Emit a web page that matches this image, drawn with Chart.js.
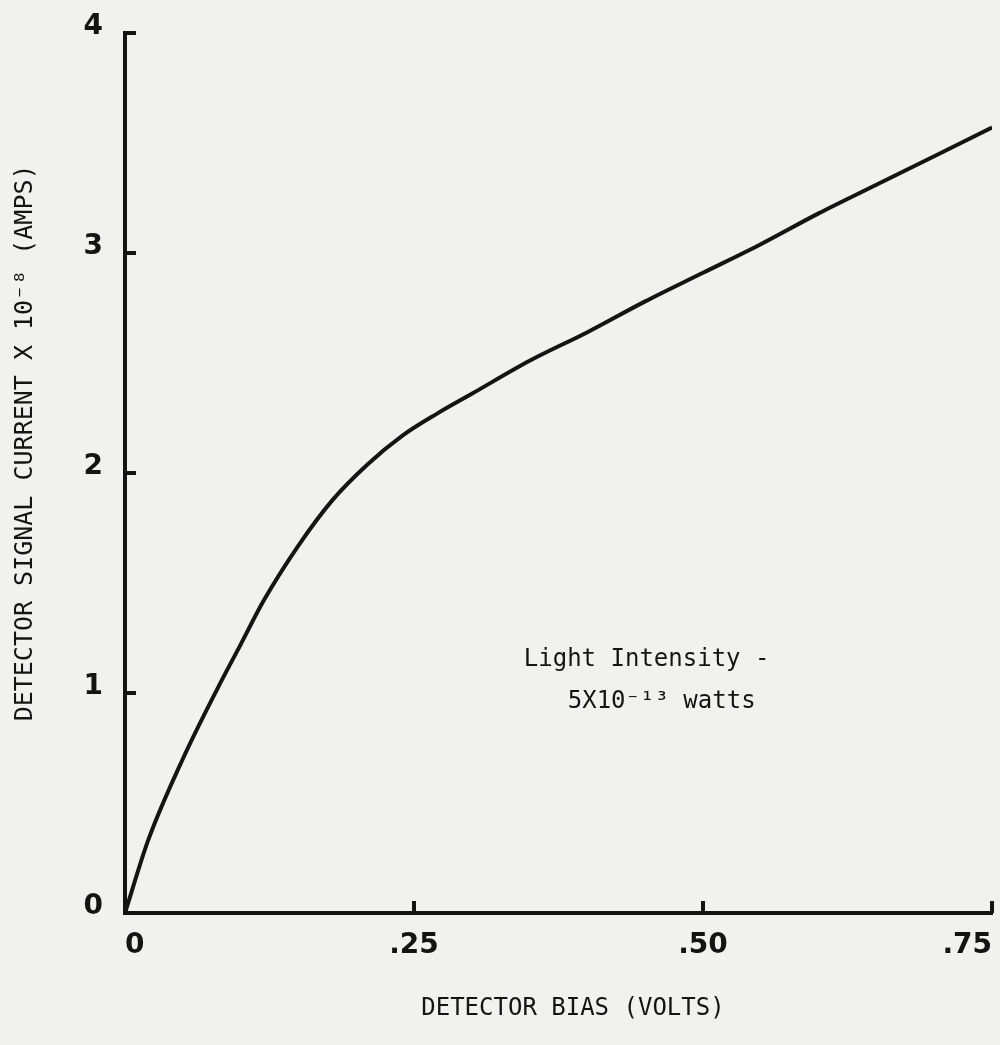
<!DOCTYPE html>
<html>
<head>
<meta charset="utf-8">
<script src="https://cdn.jsdelivr.net/npm/chart.js@4/dist/chart.umd.min.js"></script>
<style>
  html, body { margin: 0; padding: 0; background: #f1f1ef; }
  #wrap { width: 1000px; height: 1045px; position: relative; }
</style>
</head>
<body>
<div id="wrap"><canvas id="grafico"></canvas></div>
<script>
// detector bias (volts) vs signal current (x 10^-8 amps)
const biasVolts = [0, 0.02, 0.05, 0.08, 0.10, 0.12, 0.15, 0.18, 0.21, 0.24, 0.27, 0.30, 0.35, 0.40, 0.45, 0.50, 0.55, 0.60, 0.65, 0.70, 0.75];
const signalCurrent = [0, 0.33, 0.70, 1.02, 1.22, 1.42, 1.67, 1.88, 2.04, 2.17, 2.27, 2.36, 2.51, 2.64, 2.78, 2.91, 3.04, 3.18, 3.31, 3.44, 3.57];

const xTickLabels = ['0', '.25', '.50', '.75'];
const yTickLabels = ['0', '1', '2', '3', '4'];

const nota = ['Light Intensity -', '5X10\u207B\u00B9\u00B3 watts'];

const tinta = '#141414';
const fonteTexto = '"DejaVu Sans Mono", "Liberation Mono", monospace';
const fonteNumeros = '"DejaVu Sans", sans-serif';

// small inward tick marks + the text note, drawn with the chart's own scales
const extras = {
  id: 'extras',
  afterDraw(chart) {
    const { ctx, chartArea, scales } = chart;
    const x = scales.x, y = scales.y;
    ctx.save();
    ctx.strokeStyle = tinta;
    ctx.lineWidth = 4;
    ctx.lineCap = 'butt';
    y.ticks.forEach(t => {
      if (t.value === 0) return;
      const py = y.getPixelForValue(t.value);
      ctx.beginPath();
      ctx.moveTo(chartArea.left, py);
      ctx.lineTo(chartArea.left + 11, py);
      ctx.stroke();
    });
    x.ticks.forEach(t => {
      if (t.value === 0) return;
      const px = x.getPixelForValue(t.value);
      ctx.beginPath();
      ctx.moveTo(px, chartArea.bottom);
      ctx.lineTo(px, chartArea.bottom - 12);
      ctx.stroke();
    });

    ctx.fillStyle = tinta;
    ctx.font = '24px ' + fonteTexto;
    ctx.textBaseline = 'middle';
    ctx.textAlign = 'left';
    ctx.fillText(nota[0], x.getPixelForValue(0.345), y.getPixelForValue(1.15));
    ctx.fillText(nota[1], x.getPixelForValue(0.383), y.getPixelForValue(0.96));
    ctx.restore();
  }
};

const ctx = document.getElementById('grafico').getContext('2d');
const grafico = new Chart(ctx, {
  type: 'line',
  data: {
    datasets: [{
      data: biasVolts.map((v, i) => ({ x: v, y: signalCurrent[i] })),
      borderColor: tinta,
      borderWidth: 4,
      pointRadius: 0,
      fill: false,
      cubicInterpolationMode: 'monotone'
    }]
  },
  options: {
    responsive: true,
    maintainAspectRatio: false,
    animation: false,
    layout: { padding: { top: 33, right: 8, left: 0, bottom: 0 } },
    plugins: {
      legend: { display: false },
      tooltip: { enabled: false }
    },
    scales: {
      x: {
        type: 'linear',
        min: 0,
        max: 0.75,
        afterFit(scale) {
          scale.height = 132;
          scale.paddingLeft = 0;
          scale.paddingRight = 0;
        },
        grid: { display: false, drawTicks: false },
        border: { display: true, color: tinta, width: 4 },
        ticks: {
          stepSize: 0.25,
          align: 'inner',
          padding: 16,
          color: tinta,
          font: { family: fonteNumeros, size: 28, weight: 'bold' },
          callback: (v, i) => xTickLabels[i]
        },
        title: {
          display: true,
          text: '  DETECTOR BIAS (VOLTS)',
          color: tinta,
          font: { family: fonteTexto, size: 24 },
          padding: { top: 0, bottom: 22 }
        }
      },
      y: {
        min: 0,
        max: 4,
        afterFit(scale) {
          scale.width = 125;
          scale.paddingTop = 0;
          scale.paddingBottom = 0;
        },
        grid: { display: false, drawTicks: false },
        border: { display: true, color: tinta, width: 4 },
        ticks: {
          stepSize: 1,
          padding: 22,
          labelOffset: -6,
          color: tinta,
          font: { family: fonteNumeros, size: 28, weight: 'bold' },
          callback: (v, i) => yTickLabels[i]
        },
        title: {
          display: true,
          text: '    DETECTOR SIGNAL CURRENT X 10\u207B\u2078 (AMPS)',
          color: tinta,
          font: { family: fonteTexto, size: 25 },
          padding: { top: 10, bottom: 0 }
        }
      }
    }
  },
  plugins: [extras]
});
</script>
</body>
</html>
